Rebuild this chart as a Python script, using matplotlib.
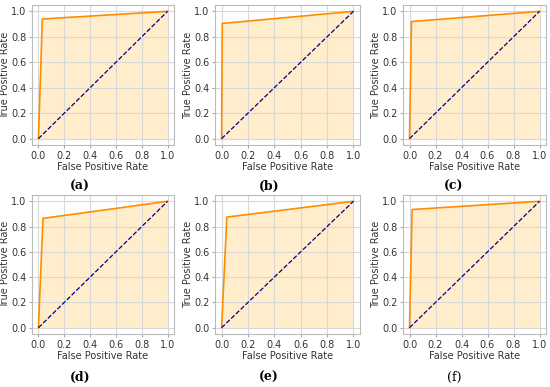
import matplotlib.pyplot as plt

# ROC points per model (fpr, tpr)
labels = ['(a)', '(b)', '(c)', '(d)', '(e)', '(f)']
fpr = [[0, 0.03, 1], [0, 0.005, 1], [0, 0.015, 1],
       [0, 0.035, 1], [0, 0.04, 1], [0, 0.02, 1]]
tpr = [[0, 0.94, 1], [0, 0.905, 1], [0, 0.92, 1],
       [0, 0.865, 1], [0, 0.875, 1], [0, 0.935, 1]]

W, H = 550, 387
fig = plt.figure(figsize=(5.5, 3.87), dpi=100)

# axes boxes in pixels: left, top, right, bottom
boxes = [(32, 5, 174, 145), (215, 5, 360, 145), (403, 5, 546, 145),
         (32, 195, 174, 334), (215, 195, 360, 334), (403, 195, 546, 334)]
cap_pos = [(80, 186), (269, 186), (454, 186), (80, 377), (269, 377), (454, 377)]

for i in range(6):
    l, t, r, b = boxes[i]
    ax = fig.add_axes([l / W, 1 - b / H, (r - l) / W, (b - t) / H])
    ax.plot(fpr[i], tpr[i], color='darkorange', lw=1.2)
    ax.fill_between(fpr[i], tpr[i], color='orange', alpha=0.2, lw=0)
    ax.plot([0, 1], [0, 1], color='navy', lw=0.9, ls='--')
    ax.set_xlim(-0.05, 1.05)
    ax.set_ylim(-0.05, 1.05)
    ax.set_xticks([0, 0.2, 0.4, 0.6, 0.8, 1.0])
    ax.set_yticks([0, 0.2, 0.4, 0.6, 0.8, 1.0])
    ax.tick_params(labelsize=7, length=2.5, color='#aaaaaa', pad=1.5,
                   labelcolor='#333333')
    ax.grid(True, color='#d8d8d8', lw=0.8)
    for s in ax.spines.values():
        s.set_color('#bbbbbb')
    ax.set_xlabel('False Positive Rate', fontsize=7, labelpad=1, color='#333333')
    ax.set_ylabel('True Positive Rate', fontsize=7, labelpad=1, color='#333333')
    x, y = cap_pos[i]
    fig.text(x / W, 1 - y / H, labels[i], ha='center', va='center',
             family='DejaVu Serif', fontsize=9,
             weight='normal' if i == 5 else 'bold')

fig.savefig('out.png', dpi=100)
